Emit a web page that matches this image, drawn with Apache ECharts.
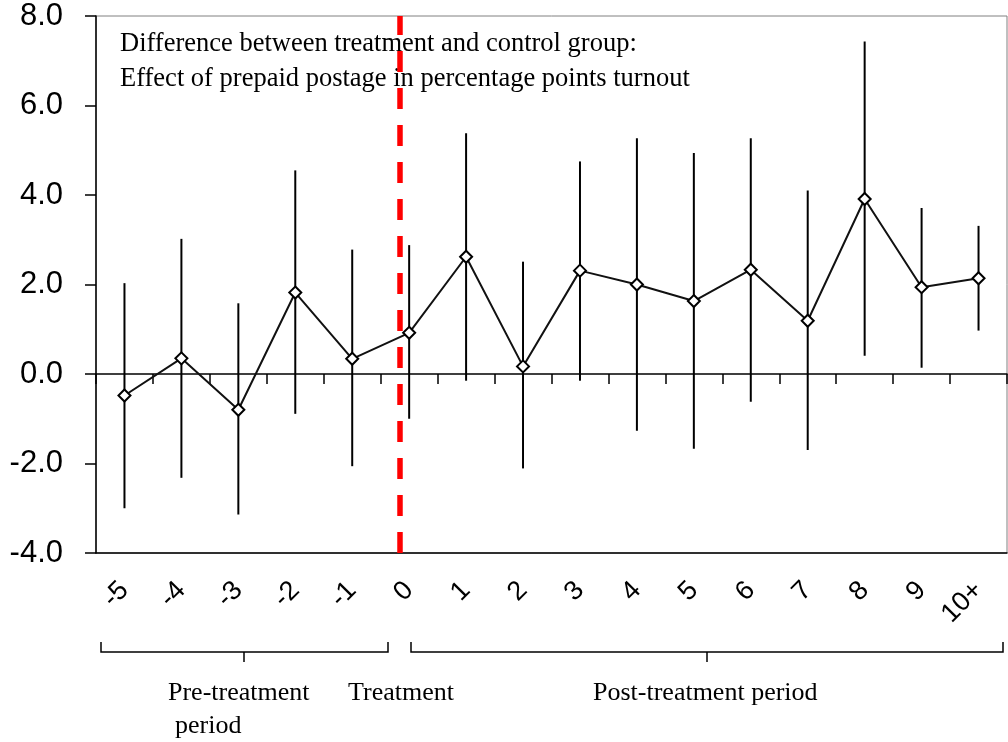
<!DOCTYPE html>
<html>
<head>
<meta charset="utf-8">
<script src="https://cdn.jsdelivr.net/npm/echarts@6/dist/echarts.min.js"></script>
<style>
  html, body { margin: 0; padding: 0; background: #fff; }
  #chart { width: 1008px; height: 742px; }
</style>
</head>
<body>
<div id="chart"></div>
<script>
// ---- data ----
const categories = ['-5','-4','-3','-2','-1','0','1','2','3','4','5','6','7','8','9','10+'];
const estimate   = [-0.48, 0.35, -0.80, 1.82, 0.34, 0.92, 2.62, 0.17, 2.31, 2.00, 1.63, 2.33, 1.19, 3.91, 1.94, 2.14];
const upperCI    = [ 2.03, 3.02,  1.58, 4.55, 2.78, 2.88, 5.38, 2.51, 4.75, 5.27, 4.94, 5.27, 4.10, 7.43, 3.71, 3.31];
const lowerCI    = [-3.00,-2.32, -3.14,-0.89,-2.06,-1.00,-0.15,-2.11,-0.15,-1.27,-1.67,-0.62,-1.70, 0.41, 0.14, 0.97];
const yTicks     = [-4, 8, 2];          // min, max, interval
const treatmentLineAt = 4.84;           // position (in category-index units) of the dashed line
const titleLines = ['Difference between treatment and control group:',
                    'Effect of prepaid postage in percentage points turnout'];

const chart = echarts.init(document.getElementById('chart'), null, { renderer: 'canvas' });

const errData = categories.map((c, i) => [i, lowerCI[i], upperCI[i]]);

const serif = '"Liberation Serif", "Times New Roman", serif';
const sans = '"Liberation Sans", Arial, sans-serif';

const option = {
  backgroundColor: '#fff',
  animation: false,
  grid: { left: 96, right: 1, top: 16, bottom: 189, show: true, borderColor: '#808080', borderWidth: 1 },
  xAxis: [
    { // zero line with boundary ticks
      type: 'category', data: categories, boundaryGap: true,
      axisLine: { onZero: true, lineStyle: { color: '#000', width: 1.5 } },
      axisTick: { show: true, length: 10, interval: 0, lineStyle: { color: '#000', width: 1.5 } },
      axisLabel: { show: false }, splitLine: { show: false }
    },
    { // bottom axis with rotated labels
      type: 'category', data: categories, boundaryGap: true, position: 'bottom',
      axisLine: { onZero: false, lineStyle: { color: '#000', width: 1.5 } },
      axisTick: { show: false },
      axisLabel: { interval: 0, rotate: 45, margin: 33, fontFamily: sans, fontSize: 27, color: '#000' },
      splitLine: { show: false }
    },
    { // hidden value axis for the treatment marker
      type: 'value', min: -0.5, max: 15.5, show: false, position: 'bottom',
      axisLine: { onZero: false }, splitLine: { show: false }
    }
  ],
  yAxis: {
    type: 'value', min: yTicks[0], max: yTicks[1], interval: yTicks[2],
    axisLine: { show: true, onZero: false, lineStyle: { color: '#000', width: 1.5 } },
    axisTick: { show: true, length: 11, lineStyle: { color: '#000', width: 1.5 } },
    axisLabel: { margin: 33, fontFamily: sans, fontSize: 31, color: '#000',
                 formatter: v => v.toFixed(1) },
    splitLine: { show: false }
  },
  graphic: [
    { type: 'text', left: 120, top: 31, z: 1,
      style: { text: titleLines[0], font: '26.5px ' + serif, fill: '#000' } },
    { type: 'text', left: 120, top: 66, z: 1,
      style: { text: titleLines[1], font: '26.5px ' + serif, fill: '#000' } },
    // brackets
    { type: 'polyline', shape: { points: [[101,642],[101,652],[388,652],[388,642]] },
      style: { stroke: '#000', lineWidth: 1.5, fill: null } },
    { type: 'line', shape: { x1: 244, y1: 652, x2: 244, y2: 662 }, style: { stroke: '#000', lineWidth: 1.5 } },
    { type: 'polyline', shape: { points: [[411,642],[411,652],[1003,652],[1003,642]] },
      style: { stroke: '#000', lineWidth: 1.5, fill: null } },
    { type: 'line', shape: { x1: 707, y1: 652, x2: 707, y2: 662 }, style: { stroke: '#000', lineWidth: 1.5 } },
    { type: 'text', left: 168, top: 680, style: { text: 'Pre-treatment', font: '26px ' + serif, fill: '#000' } },
    { type: 'text', left: 175, top: 713, style: { text: 'period', font: '26px ' + serif, fill: '#000' } },
    { type: 'text', left: 348, top: 680, style: { text: 'Treatment', font: '26px ' + serif, fill: '#000' } },
    { type: 'text', left: 593, top: 680, style: { text: 'Post-treatment period', font: '26px ' + serif, fill: '#000' } }
  ],
  series: [
    {
      type: 'custom', name: 'ci', xAxisIndex: 0, yAxisIndex: 0, z: 2,
      data: errData,
      renderItem: function (params, api) {
        const i = api.value(0);
        const lo = api.coord([i, api.value(1)]);
        const hi = api.coord([i, api.value(2)]);
        return { type: 'line', shape: { x1: lo[0], y1: lo[1], x2: hi[0], y2: hi[1] },
                 style: { stroke: '#000', lineWidth: 2 } };
      }
    },
    {
      type: 'line', name: 'effect', xAxisIndex: 0, yAxisIndex: 0, z: 3,
      data: estimate,
      symbol: 'diamond', symbolSize: [12, 12], showSymbol: true,
      lineStyle: { color: '#111', width: 2 },
      itemStyle: { color: '#fff', borderColor: '#000', borderWidth: 2 }
    },
    {
      type: 'line', name: 'treatment', xAxisIndex: 2, yAxisIndex: 0, z: 4,
      data: [], showSymbol: false,
      markLine: {
        silent: true, symbol: 'none', label: { show: false },
        lineStyle: { color: '#ff0000', width: 5.5, type: [21, 16] },
        data: [{ xAxis: treatmentLineAt }]
      }
    }
  ]
};
chart.setOption(option);
</script>
</body>
</html>
